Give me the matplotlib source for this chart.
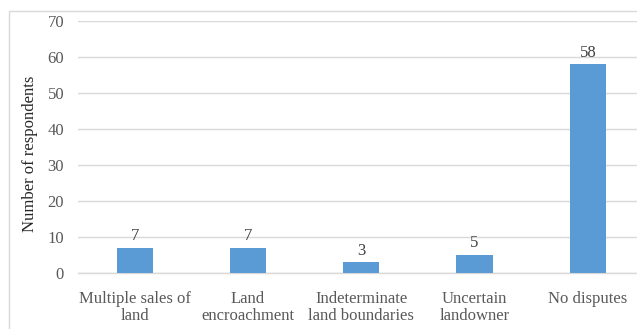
import matplotlib
matplotlib.use("Agg")
import matplotlib.pyplot as plt
from matplotlib.patches import Rectangle

# Land dispute types reported by respondents
categories = ["Multiple sales of\nland", "Land\nencroachment", "Indeterminate\nland boundaries",
              "Uncertain\nlandowner", "No disputes"]
respondents = [7, 7, 3, 5, 58]
yticks = [0, 10, 20, 30, 40, 50, 60, 70]

plt.rcParams["font.family"] = ["Liberation Serif", "DejaVu Serif"]
text_col = "#595959"
fs = 12

fig = plt.figure(figsize=(6.37, 3.29), dpi=100)

# chart frame (runs off the right and bottom edges)
fig.patches.append(Rectangle((9 / 637, -0.05), 1.1, 1 - 11 / 329 + 0.05,
                             transform=fig.transFigure, fill=False,
                             edgecolor="#d9d9d9", linewidth=1.0))

ax = fig.add_axes([78 / 637, 56 / 329, 566.5 / 637, 252 / 329])
x = range(len(categories))
bars = ax.bar(x, respondents, width=0.32, color="#5B9BD5", zorder=3)

for b, v in zip(bars, respondents):
    ax.text(b.get_x() + b.get_width() / 2, v + 1.0, str(v), ha="center", va="bottom",
            fontsize=fs, color="#404040")

ax.set_xlim(-0.5, len(categories) - 0.5)
ax.set_ylim(0, 70)
ax.set_yticks(yticks)
ax.set_xticks(list(x))
ax.set_xticklabels(categories, fontsize=fs, color=text_col, linespacing=1.05)
ax.tick_params(axis="y", labelsize=fs, labelcolor=text_col, length=0, pad=10)
ax.tick_params(axis="x", length=0, pad=13)
ax.grid(axis="y", color="#d9d9d9", linewidth=1.0, zorder=0)
for s in ["top", "right", "left"]:
    ax.spines[s].set_visible(False)
ax.spines["bottom"].set_color("#d9d9d9")
ax.spines["bottom"].set_linewidth(1.0)

ax.set_ylabel("Number of respondents", fontsize=fs, color="#262626", labelpad=7)
ax.yaxis.label.set_y(0.472)

fig.savefig("out.png", dpi=100)
